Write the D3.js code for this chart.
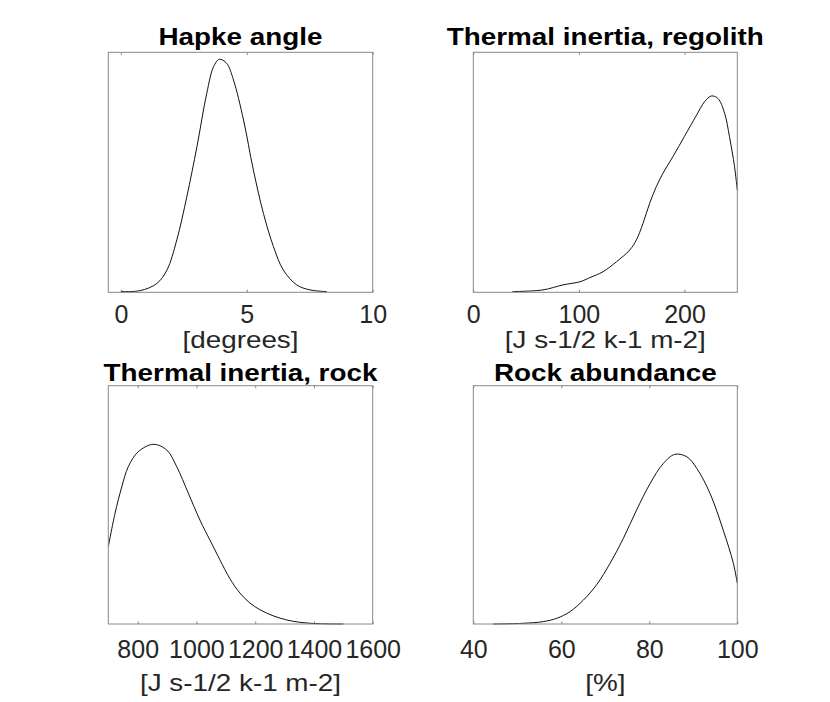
<!DOCTYPE html>
<html>
<head>
<meta charset="utf-8">
<script src="https://cdn.jsdelivr.net/npm/d3@7"></script>
<style>
  body { margin: 0; background: #fff; }
  text { font-family: "Liberation Sans", Arial, Helvetica, sans-serif; }
</style>
</head>
<body>
<div id="chart"></div>
<script>
// panel titles and x labels
const titles = ["Hapke angle", "Thermal inertia, regolith", "Thermal inertia, rock", "Rock abundance"]
const xLabels = ["[degrees]", "[J s-1/2 k-1 m-2]", "[J s-1/2 k-1 m-2]", "[%]"]

// x domains and tick values
const xDomains = [[-0.5, 10], [0, 250], [700, 1600], [40, 100]]
const xTicks = [[0, 5, 10], [0, 100, 200], [800, 1000, 1200, 1400, 1600], [40, 60, 80, 100]]

// density curves (relative height)
const hapkeX = [0, 0.77, 1.43, 1.83, 2.22, 2.62, 3.02, 3.41, 3.68, 3.91, 4.2, 4.47, 4.87, 5.26, 5.66, 6.06, 6.45, 6.98, 7.51, 8.17]
const hapkeY = [0.003, 0.007, 0.037, 0.093, 0.218, 0.399, 0.607, 0.829, 0.94, 0.971, 0.954, 0.885, 0.718, 0.51, 0.329, 0.19, 0.093, 0.031, 0.01, 0.003]

const regolithX = [37, 66, 85, 101, 110.3, 122.9, 135.5, 148.1, 154.4, 160.7, 167, 173.3, 179.6, 189, 200, 211, 219, 225.3, 231.6, 238, 242.6, 247.4, 250]
const regolithY = [0.003, 0.01, 0.031, 0.044, 0.061, 0.086, 0.127, 0.176, 0.218, 0.287, 0.371, 0.44, 0.496, 0.565, 0.65, 0.735, 0.794, 0.818, 0.808, 0.746, 0.648, 0.523, 0.426]

const rockTiX = [700, 723, 746, 768, 802, 853, 899, 933, 972, 1012, 1046, 1080, 1114, 1148, 1182, 1216, 1262, 1307, 1347, 1400, 1450, 1500]
const rockTiY = [0.324, 0.465, 0.576, 0.66, 0.723, 0.754, 0.73, 0.66, 0.55, 0.436, 0.352, 0.269, 0.19, 0.13, 0.088, 0.06, 0.034, 0.017, 0.008, 0.002, 0.0005, 0]

const rockAbX = [44.5, 51.4, 55.9, 59, 62, 65, 68, 71.1, 74.1, 77.1, 80.2, 83.2, 85.8, 88.5, 90.8, 93.8, 96.8, 99.1, 100]
const rockAbY = [0, 0.003, 0.01, 0.024, 0.052, 0.1, 0.164, 0.255, 0.359, 0.478, 0.59, 0.674, 0.712, 0.702, 0.653, 0.548, 0.394, 0.255, 0.171]

const seriesX = [hapkeX, regolithX, rockTiX, rockAbX]
const seriesY = [hapkeY, regolithY, rockTiY, rockAbY]

let width = 830
let height = 702

// panel boxes
let panels = [
    {left: 108.3, top: 52.3, w: 264.4, h: 240, titleDy: -7, tickDy: 31, labelDy: 56},
    {left: 473.3, top: 52.3, w: 264, h: 240, titleDy: -7, tickDy: 31, labelDy: 56},
    {left: 108.3, top: 385.7, w: 264.4, h: 238.3, titleDy: -5, tickDy: 34, labelDy: 67},
    {left: 473.3, top: 385.7, w: 264, h: 238.3, titleDy: -5, tickDy: 34, labelDy: 67}
]

let tickFont = 25
let titleFont = 24
let labelFont = 24
// the original glyphs are wider than Liberation Sans at the same height
let stretch = 1.16

let svg = d3.select("#chart")
    .append("svg")
    .attr("width", width)
    .attr("height", height)

svg.append("rect")
    .attr("width", width)
    .attr("height", height)
    .attr("fill", "#fff")

panels.forEach((p, i) => {
    let g = svg.append("g")
        .attr("transform", `translate(${p.left},${p.top})`)

    let x = d3.scaleLinear()
        .domain(xDomains[i])
        .range([0, p.w])

    let y = d3.scaleLinear()
        .domain([0, 1])
        .range([p.h, 0])

    // ticks pointing inward, top and bottom, labels only at bottom
    let xAxisBottom = d3.axisBottom(x)
        .tickValues(xTicks[i])
        .tickSizeInner(-2.6)
        .tickSizeOuter(0)
        .tickPadding(p.tickDy - 0.71 * tickFont)
        .tickFormat(d3.format("d"))

    let xAxisTop = d3.axisTop(x)
        .tickValues(xTicks[i])
        .tickSizeInner(-2.6)
        .tickSizeOuter(0)
        .tickFormat("")

    let bottomAxis = g.append("g")
        .attr("transform", `translate(0,${p.h})`)
        .call(xAxisBottom)
    bottomAxis.select(".domain").remove()
    bottomAxis.selectAll("line").attr("stroke", "#888")
    bottomAxis.selectAll("text")
        .attr("font-size", tickFont)
        .attr("fill", "#262626")
        .attr("font-family", "Liberation Sans, Arial, sans-serif")

    let topAxis = g.append("g").call(xAxisTop)
    topAxis.select(".domain").remove()
    topAxis.selectAll("line").attr("stroke", "#888")

    const line = d3.line()
        .curve(d3.curveCatmullRom.alpha(0.5))
        .x(d => x(d[0]))
        .y(d => y(d[1]))

    let pts = seriesX[i].map((v, k) => [v, seriesY[i][k]])

    g.append("path")
        .datum(pts)
        .attr("fill", "none")
        .attr("stroke", "#111")
        .attr("stroke-width", 1)
        .attr("d", line)

    // box
    g.append("rect")
        .attr("x", 0)
        .attr("y", 0)
        .attr("width", p.w)
        .attr("height", p.h)
        .attr("fill", "none")
        .attr("stroke", "#888")
        .attr("stroke-width", 1)

    g.append("text")
        .attr("transform", `translate(${p.w / 2},${p.titleDy}) scale(${stretch},1)`)
        .attr("text-anchor", "middle")
        .attr("font-size", titleFont)
        .attr("font-weight", "bold")
        .attr("fill", "#000")
        .text(titles[i])

    g.append("text")
        .attr("transform", `translate(${p.w / 2},${p.h + p.labelDy}) scale(${stretch},1)`)
        .attr("text-anchor", "middle")
        .attr("font-size", labelFont)
        .attr("fill", "#262626")
        .text(xLabels[i])
})
</script>
</body>
</html>
